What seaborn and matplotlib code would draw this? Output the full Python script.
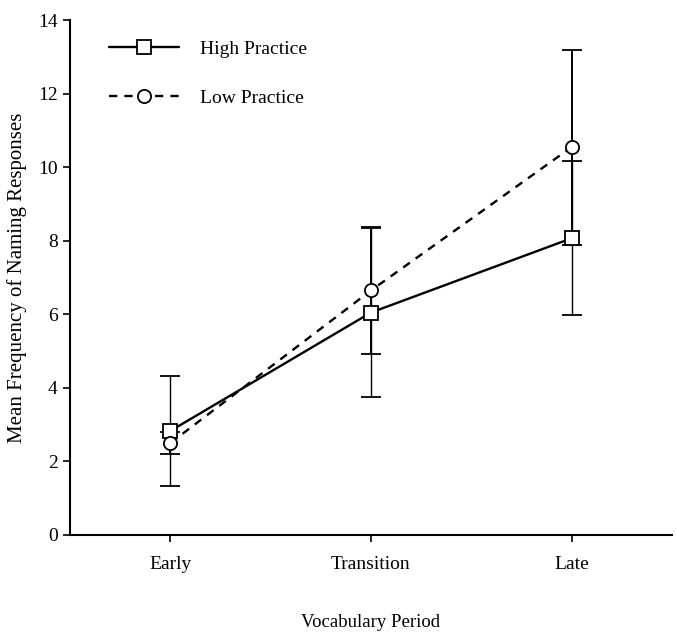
import matplotlib
matplotlib.use("Agg")
import matplotlib.pyplot as plt
import seaborn as sns
import pandas as pd

periods = ["Early", "Transition", "Late"]
high_mean = [2.83, 6.05, 8.07]
high_err = [1.5, 2.3, 2.1]
low_mean = [2.5, 6.65, 10.55]
low_err = [0.3, 1.72, 2.65]
series = ["High Practice", "Low Practice"]

sns.set_theme(style="ticks")
plt.rcParams["font.family"] = ["Liberation Serif", "DejaVu Serif"]
plt.rcParams["text.color"] = "black"
plt.rcParams["axes.labelcolor"] = "black"

pos = list(range(len(periods)))
df = pd.DataFrame({
    "pos": pos * 2,
    "mean": high_mean + low_mean,
    "group": [series[0]] * 3 + [series[1]] * 3,
})

fig = plt.figure(figsize=(6.77, 6.32), dpi=100)
ax = fig.add_axes([0.1034, 0.1535, 0.8892, 0.8145])

# error bars
ax.errorbar(pos, high_mean, yerr=high_err, fmt="none", ecolor="black",
            elinewidth=1.0, capsize=7, capthick=1.3, zorder=1)
ax.errorbar(pos, low_mean, yerr=low_err, fmt="none", ecolor="black",
            elinewidth=1.4, capsize=7, capthick=1.3, zorder=1)

sns.lineplot(data=df, x="pos", y="mean", hue="group", style="group",
             palette={series[0]: "black", series[1]: "black"},
             dashes={series[0]: "", series[1]: (3.5, 3)},
             markers={series[0]: "s", series[1]: "o"},
             markersize=9.5, markerfacecolor="white", markeredgecolor="black",
             markeredgewidth=1.3, linewidth=1.7, ax=ax, zorder=3)

ax.set_xlim(-0.5, 2.5)
ax.set_ylim(0, 14)
ax.set_xticks(pos)
ax.set_xticklabels(periods)
ax.set_yticks(range(0, 15, 2))
ax.tick_params(axis="both", labelsize=14, direction="out", length=5,
               width=1.2, colors="black")
ax.tick_params(axis="x", pad=10)
ax.tick_params(axis="y", pad=4)
for s in ["top", "right"]:
    ax.spines[s].set_visible(False)
for s in ["left", "bottom"]:
    ax.spines[s].set_linewidth(1.5)
    ax.spines[s].set_color("black")

ax.set_xlabel("Vocabulary Period", fontsize=13.5, labelpad=30)
ax.set_ylabel("Mean Frequency of Naming Responses", fontsize=15, labelpad=8)

leg = ax.legend(loc="upper left", frameon=False, fontsize=14,
                handlelength=3.6, handletextpad=1.1, labelspacing=1.6,
                bbox_to_anchor=(0.035, 0.995))
for h in leg.legend_handles:
    h.set_markerfacecolor("white")
    h.set_markeredgecolor("black")
for t in leg.get_texts():
    t.set_color("black")

fig.savefig("out.png", dpi=100)
